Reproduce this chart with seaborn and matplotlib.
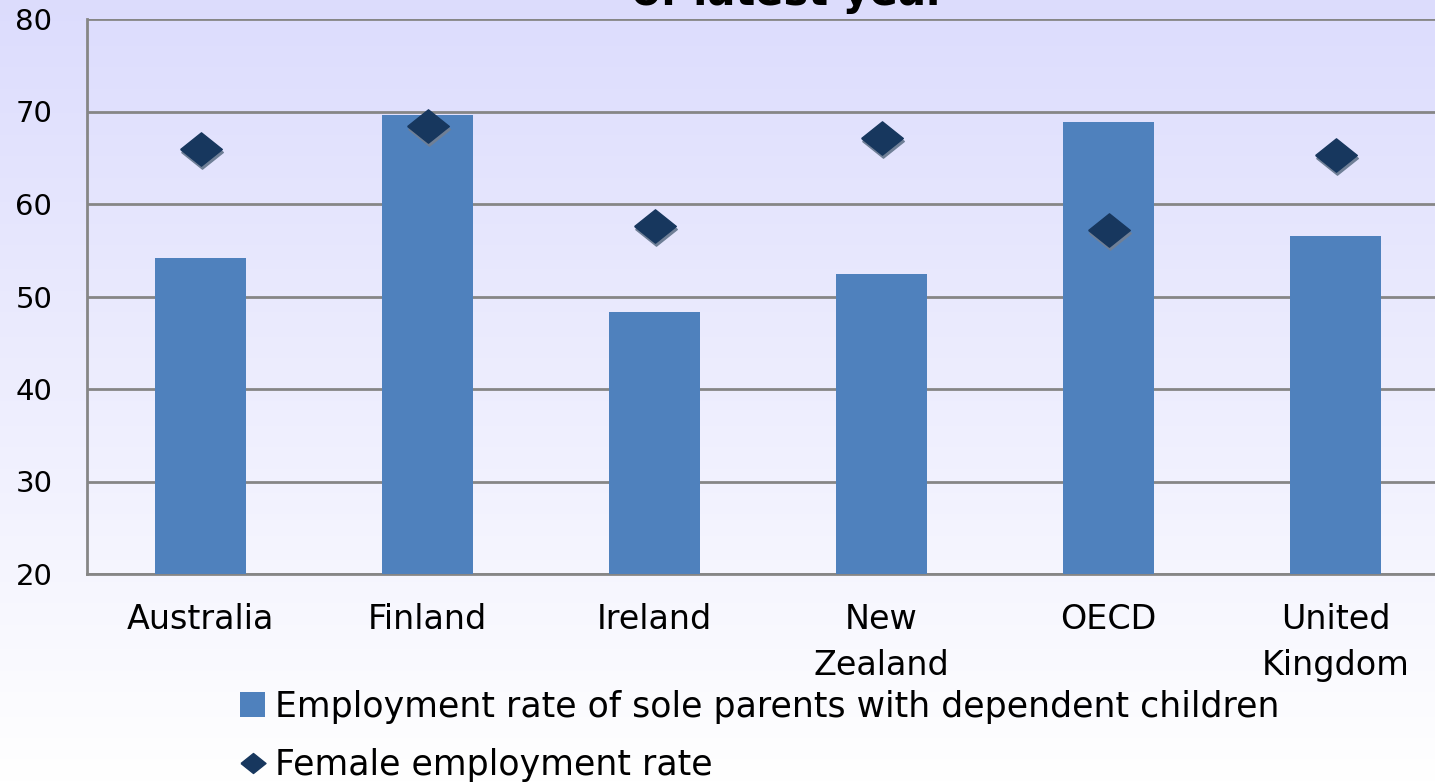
import numpy as np
import pandas as pd
import matplotlib
matplotlib.use("Agg")
import matplotlib.pyplot as plt
import matplotlib.transforms as mtransforms
from matplotlib.lines import Line2D
from matplotlib.patches import Patch
import seaborn as sns

# %% data
countries = ["Australia", "Finland", "Ireland", "New\nZealand", "OECD", "United\nKingdom"]
sole_parent_rate = [54.2, 69.6, 48.3, 52.4, 68.9, 56.5]
female_rate = [66.0, 68.4, 57.6, 67.1, 57.2, 65.3]
yticks = [20, 30, 40, 50, 60, 70, 80]

df = pd.DataFrame({"country": countries,
                   "sole": sole_parent_rate,
                   "female": female_rate})

bar_color = "#4F81BD"
diamond_color = "#17375E"
grey = "#868686"

sns.set_style("white")
plt.rcParams["font.family"] = ["DejaVu Sans"]
plt.rcParams["text.color"] = "black"
plt.rcParams["xtick.labelcolor"] = "black"
plt.rcParams["ytick.labelcolor"] = "black"

fig = plt.figure(figsize=(14.35, 7.84), dpi=100)

# %% gradient background for the whole figure
bg = fig.add_axes([0, 0, 1, 1], zorder=-10)
grad = np.linspace(0, 1, 256).reshape(-1, 1)
top = np.array([0.863, 0.863, 0.992])
bottom = np.array([1.0, 1.0, 1.0])
img = top + (bottom - top) * grad[..., None]
bg.imshow(img, aspect="auto", extent=[0, 1, 0, 1], origin="upper")
bg.axis("off")

# %% main axes (runs off the right edge like the reference)
ax = fig.add_axes([87 / 1435, 1 - 574 / 784, 1362 / 1435, 555 / 784])
ax.patch.set_alpha(0)

sns.barplot(data=df, x="country", y="sole", color=bar_color, width=0.4,
            saturation=1, ax=ax, zorder=3, edgecolor="none")

diamond = [(-1, 0), (0, 0.8), (1, 0), (0, -0.8), (-1, 0)]
xs = np.arange(len(countries))
shadow_tr = mtransforms.offset_copy(ax.transData, fig=fig, x=1.2, y=-2.2, units="points")
ax.plot(xs, df["female"], linestyle="none", marker=diamond, markersize=30,
        color="#6F7F96", transform=shadow_tr, zorder=4)
ax.plot(xs, df["female"], linestyle="none", marker=diamond, markersize=30,
        color=diamond_color, zorder=5)

ax.set_ylim(20, 80)
ax.set_xlim(-0.5, len(countries) - 0.5)
ax.set_yticks(yticks)
ax.yaxis.grid(True, color=grey, linewidth=2, zorder=0)
ax.set_axisbelow(True)
ax.set_xlabel("")
ax.set_ylabel("")

for side in ["top", "right"]:
    ax.spines[side].set_visible(False)
for side in ["left", "bottom"]:
    ax.spines[side].set_color(grey)
    ax.spines[side].set_linewidth(2)

ax.tick_params(axis="y", which="major", direction="out", length=8, width=2,
               color=grey, labelsize=21, pad=17)
ax.tick_params(axis="x", which="major", length=0, labelsize=24, pad=21)
ax.set_xticks(np.arange(0.5, len(countries) - 0.5), minor=True)
ax.tick_params(axis="x", which="minor", direction="in", length=9, width=2, color=grey)
for lbl in ax.get_xticklabels():
    lbl.set_linespacing(1.5)

# %% cut-off title at the top edge
fig.text(0.550, 0.993, "of latest year", ha="center", va="baseline",
         fontsize=30, fontweight="bold")

# %% legend under the chart
handles = [Patch(facecolor=bar_color, edgecolor="none"),
           Line2D([], [], linestyle="none", marker=diamond, markersize=18,
                  color=diamond_color)]
labels = ["Employment rate of sole parents with dependent children",
          "Female employment rate"]
fig.legend(handles, labels, loc="upper left", bbox_to_anchor=(240 / 1435, 1 - 690 / 784),
           frameon=False, fontsize=25, handlelength=0.72, handleheight=0.72,
           handletextpad=0.3, labelspacing=0.7, borderaxespad=0, borderpad=0)

fig.savefig("out.png", dpi=100)
